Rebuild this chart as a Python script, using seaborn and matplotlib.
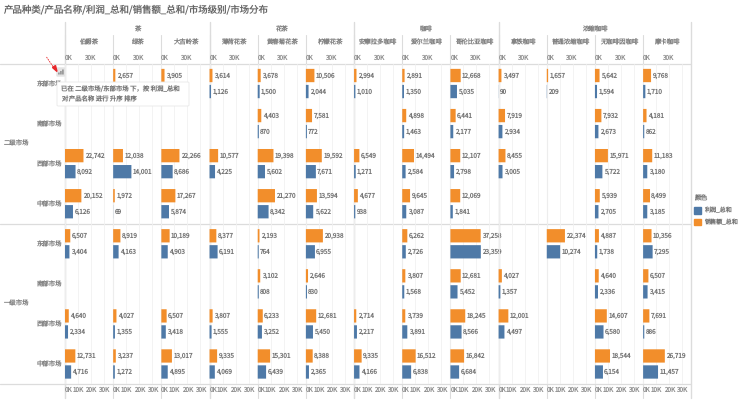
# Dual axis bar chart: sales and profit per product, market level and region
import matplotlib
matplotlib.use('Agg')
import matplotlib.pyplot as plt
from matplotlib.lines import Line2D
from matplotlib.patches import FancyBboxPatch, Patch, Rectangle
import pandas as pd
import seaborn as sns

W, H = 741, 407

# --- data, None means no bar ---
groups = ['茶', '花茶', '咖啡', '浓缩咖啡']
products = ['伯爵茶', '绿茶', '大吉岭茶', '薄荷花茶', '黄春菊花茶', '柠檬花茶', '安摩拉多咖啡',
            '爱尔兰咖啡', '哥伦比亚咖啡', '拿铁咖啡', '普通浓缩咖啡', '无咖啡因咖啡', '摩卡咖啡']
levels = ['二级市场', '一级市场']
regions = ['东部市场', '南部市场', '西部市场', '中部市场']
sales_name = '销售额_总和'
profit_name = '利润_总和'

sales_2_east = [None, 2657, 3905, 3614, 3678, 10506, 2994, 2891, 12668, 3497, 1657, 5642, 9768]
profit_2_east = [None, None, None, 1126, 1500, 2044, 1010, 1350, 5035, 90, 209, 1594, 1710]
sales_2_south = [None, None, None, None, 4403, 7581, None, 4898, 6441, 7919, None, 7932, 4181]
profit_2_south = [None, None, None, None, 870, 772, None, 1463, 2177, 2934, None, 2673, 862]
sales_2_west = [22742, 12038, 22266, 10577, 19398, 19592, 6549, 14494, 12107, 8455, None, 15971, 11183]
profit_2_west = [8092, 14001, 8686, 4225, 5602, 7671, 1271, 2584, 2798, 3005, None, 5722, 3180]
sales_2_mid = [20152, 1972, 17267, None, 21270, 13594, 4677, 9645, 12069, None, None, 5939, 8499]
profit_2_mid = [6126, 69, 5874, None, 8342, 5622, 938, 3087, 1841, None, None, 2705, 3185]
sales_1_east = [6507, 8919, 10189, 8377, 2193, 20938, None, 6262, 37258, None, 22374, 4887, 10356]
profit_1_east = [3404, 4163, 4903, 6191, 764, 6955, None, 2726, 23359, None, 10274, 1738, 7295]
sales_1_south = [None, None, None, None, 3102, 2646, None, 3807, 12681, 4027, None, 4640, 6507]
profit_1_south = [None, None, None, None, 808, 830, None, 1568, 5452, 1357, None, 2336, 3415]
sales_1_west = [4640, 4027, 6507, 3807, 6233, 12681, 2714, 3739, 18245, 12001, None, 14607, 7691]
profit_1_west = [2334, 1355, 3418, 1555, 3252, 5450, 2217, 3891, 8566, 4497, None, 6580, 886]
sales_1_mid = [12731, 3237, 13017, 9335, 15301, 8388, 9335, 16512, 16842, None, None, 18544, 26719]
profit_1_mid = [4716, 1272, 4895, 4069, 6439, 2365, 4166, 6838, 6684, None, None, 6154, 11457]

sales_rows = [sales_2_east, sales_2_south, sales_2_west, sales_2_mid,
              sales_1_east, sales_1_south, sales_1_west, sales_1_mid]
profit_rows = [profit_2_east, profit_2_south, profit_2_west, profit_2_mid,
               profit_1_east, profit_1_south, profit_1_west, profit_1_mid]

row_keys = [lv + '/' + rg for lv in levels for rg in regions]

# long table for seaborn
records = []
for key, s_row, p_row in zip(row_keys, sales_rows, profit_rows):
    for name, s, p in zip(products, s_row, p_row):
        if s is not None:
            records.append({'row': key, 'product': name, 'measure': sales_name, 'value': s})
        if p is not None:
            records.append({'row': key, 'product': name, 'measure': profit_name, 'value': p})
df = pd.DataFrame(records)

sns.set_theme(style='white')
plt.rcParams['font.family'] = ['Noto Sans CJK SC', 'DejaVu Sans']
plt.rcParams['text.hinting'] = 'none'

BLUE = '#4e79a7'
ORANGE = '#f28e2b'
TXT = '#777777'
TICK = '#929292'
HEAD = '#848484'
LINE = '#dcdcdc'
FS = 4.6
palette = {sales_name: ORANGE, profit_name: BLUE}

fig = plt.figure(figsize=(W / 100, H / 100), dpi=100, facecolor='white')


def fx(x):
    return x / W


def fy(y):
    return 1 - y / H


def fig_line(x0, y0, x1, y1, color=LINE, lw=0.8):
    # zorder -1 keeps the pane lines under the bars
    fig.add_artist(Line2D([fx(x0), fx(x1)], [fy(y0), fy(y1)], color=color, lw=lw, zorder=-1))


def fig_text(x, y, s, **kw):
    kw.setdefault('color', TXT)
    kw.setdefault('va', 'center')
    kw.setdefault('fontsize', FS)
    return fig.text(fx(x), fy(y), s, **kw)


PLOT_LEFT, PLOT_RIGHT = 65.0, 691.3
PLOT_TOP, PLOT_BOTTOM = 63.5, 384.0
panel_w = (PLOT_RIGHT - PLOT_LEFT) / len(products)

for i, name in enumerate(products):
    left = PLOT_LEFT + i * panel_w
    ax = fig.add_axes([fx(left), fy(PLOT_BOTTOM), fx(panel_w), (PLOT_BOTTOM - PLOT_TOP) / H])
    ax.patch.set_visible(False)
    top = ax.twiny()
    top.patch.set_visible(False)

    sub = df[df['product'] == name]
    # both measures have their own scale, so each axis draws just its measure
    sns.barplot(data=sub[sub['measure'] == profit_name], x='value', y='row', hue='measure',
                order=row_keys, hue_order=[sales_name, profit_name], palette=palette, dodge=True,
                width=0.8, gap=0.17, saturation=1, legend=False, ax=ax, errorbar=None)
    sns.barplot(data=sub[sub['measure'] == sales_name], x='value', y='row', hue='measure',
                order=row_keys, hue_order=[sales_name, profit_name], palette=palette, dodge=True,
                width=0.8, gap=0.17, saturation=1, legend=False, ax=top, errorbar=None)

    ax.set_xlim(0, 37000)
    top.set_xlim(0, 59300)
    ax.set_ylim(len(row_keys) - 0.5, -0.5)
    top.set_ylim(len(row_keys) - 0.5, -0.5)

    for a in (ax, top):
        for c in a.containers:
            a.bar_label(c, fmt=lambda v: f'{v:,.0f}', padding=1, fontsize=FS, color=TXT)
            for b in c:
                # thin bars vanish when snapped to the pixel grid and clipped
                b.set_snap(False)
                b.set_clip_on(False)
                b.set_linewidth(0)
        for sp in a.spines.values():
            sp.set_visible(False)
        a.set_xlabel('')
        a.set_ylabel('')

    ax.set_xticks([0, 10000, 20000, 30000], ['0K', '10K', '20K', '30K'])
    top.set_xticks([0, 30000], ['0K', '30K'])
    ax.tick_params(axis='x', length=0, pad=2, labelsize=FS, labelcolor=TICK)
    top.tick_params(axis='x', length=0, pad=1.5, labelsize=FS, labelcolor=TICK)
    ax.get_xticklabels()[0].set_ha('left')
    top.get_xticklabels()[0].set_ha('left')
    ax.grid(axis='x', color='#f1f1f1', lw=0.6)
    ax.set_axisbelow(True)
    top.tick_params(axis='y', left=False, labelleft=False, right=False, labelright=False)

    if i == 0:
        ax.set_yticks(range(len(row_keys)), regions * 2)
        ax.tick_params(axis='y', length=0, pad=2, labelsize=FS, labelcolor=HEAD)
    else:
        ax.tick_params(axis='y', left=False, labelleft=False)

    fig_text(left + panel_w / 2, 42.7, name, ha='center', color=HEAD)
    fig_line(left, 35, left, 398)

# group headers and outer frame
group_spans = [(0, 3), (3, 6), (6, 9), (9, 13)]
for g, (a, b) in zip(groups, group_spans):
    x0 = PLOT_LEFT + a * panel_w
    x1 = PLOT_LEFT + b * panel_w
    fig_text((x0 + x1) / 2, 29, g, ha='center', color=HEAD)
    fig_line(x0, 22, x0, 398, lw=1.0)
fig_line(PLOT_RIGHT, 22, PLOT_RIGHT, 398, lw=1.0)
for y in (PLOT_TOP, (PLOT_TOP + PLOT_BOTTOM) / 2, PLOT_BOTTOM):
    fig_line(0, y, PLOT_RIGHT, y, lw=0.9)

fig_text(4, 143.5, levels[0], color=HEAD)
fig_text(4, 303.5, levels[1], color=HEAD)
fig_text(4, 10.5, '产品种类/产品名称/利润_总和/销售额_总和/市场级别/市场分布', fontsize=6.8, color='#666666')

# legend
fig.legend(handles=[Patch(color=BLUE, label=profit_name), Patch(color=ORANGE, label=sales_name)],
           title='颜色', loc='upper left', bbox_to_anchor=(fx(694), fy(195)), frameon=False,
           fontsize=4.4, title_fontsize=4.8, alignment='left', handlelength=1.15, handleheight=1.2,
           handletextpad=0.45, labelspacing=0.85, labelcolor=TXT, borderpad=0, borderaxespad=0)
fig.legends[0].get_title().set_color(TXT)

# sort icon, tooltip and red arrow on top of the pane
icon = Rectangle((fx(57), fy(76)), 7.5 / W, 8 / H, color='#e3e3e3', zorder=5)
icon.set_snap(False)
fig.add_artist(icon)
for bx, bh in zip((58.5, 60.5, 62.5), (2, 3.5, 5)):
    bar = Rectangle((fx(bx), fy(74.5)), 0.9 / W, bh / H, color='#555555', lw=0, zorder=6)
    bar.set_snap(False)
    fig.add_artist(bar)
tip = FancyBboxPatch((fx(57), fy(106)), 132 / W, 24 / H, boxstyle='round,pad=0,rounding_size=0.002',
                     transform=fig.transFigure, facecolor='white', edgecolor='#e8e8e8', lw=0.6, zorder=7)
fig.add_artist(tip)
fig_text(61, 89, '已在 二级市场/东部市场 下，按 利润_总和', zorder=8)
fig_text(61, 99, '对 产品名称 进行 升序 排序', zorder=8)
fig.add_artist(Line2D([fx(46.5), fx(54)], [fy(57), fy(68)], color='#e8262a', lw=0.6, ls=(0, (2, 1)), zorder=8))
fig.add_artist(plt.Polygon([(fx(57), fy(71.5)), (fx(52.5), fy(67.5)), (fx(55.5), fy(65.5))],
                           transform=fig.transFigure, color='#e8262a', zorder=8))

fig.savefig('out.png', dpi=100)
